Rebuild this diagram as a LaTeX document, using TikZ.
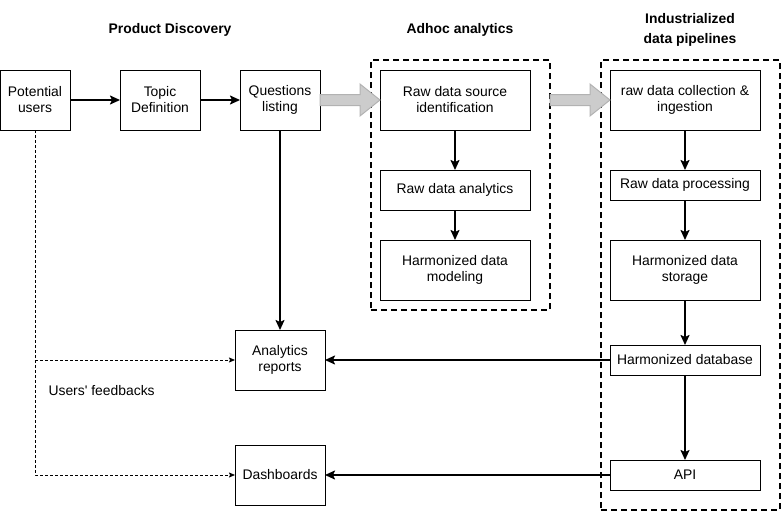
\documentclass[tikz,border=0pt]{standalone}
\usepackage{fontspec}
\setmainfont{Liberation Sans}
\usetikzlibrary{positioning,arrows.meta}

\begin{document}
\begin{tikzpicture}[x=1pt, y=1pt, node distance={40pt},
    main/.style = {draw, line width=1pt, align=center, inner sep=0pt, outer sep=0pt, font=\fontsize{13.9}{16}\selectfont},
    title/.style = {align=center, font=\bfseries\fontsize{13.9}{20}\selectfont},
    frame/.style = {draw, line width=2pt, dash pattern=on 6pt off 4pt, inner sep=0pt, outer sep=0pt},
    flow/.style = {-{Stealth[length=10pt, width=9pt, inset=2pt]}, line width=1.8pt},
    feedback/.style = {-{Stealth[length=6pt, width=5pt, inset=1pt]}, line width=0.8pt, dash pattern=on 3pt off 2pt},
    bigarrow/.style = {fill=black!20, draw=black!30, line width=1pt}]
\useasboundingbox (0,0) rectangle (782,-512);
				% product discovery
				\node[main, minimum width=70pt, minimum height=60pt] (users) at (35,-100) {Potential\\users};
				\node[main, minimum width=80pt, minimum height=60pt] (topic) [right=50pt of users] {Topic\\Definition};
				\node[main, minimum width=80pt, minimum height=60pt] (questions) [right=40pt of topic] {Questions\\listing};
				% adhoc analytics
				\node[main, minimum width=150pt, minimum height=60pt] (source) [right=60pt of questions] {Raw data source\\identification};
				\node[main, minimum width=150pt, minimum height=40pt] (rawana) [below=40pt of source] {Raw data analytics};
				\node[main, minimum width=150pt, minimum height=60pt] (model) [below=30pt of rawana] {Harmonized data\\modeling};
				% industrialized pipelines
				\node[main, minimum width=150pt, minimum height=60pt] (collect) [right=80pt of source] {raw data collection \&\\ingestion};
				\node[main, minimum width=150pt, minimum height=30pt] (process) [below=40pt of collect] {Raw data processing};
				\node[main, minimum width=150pt, minimum height=60pt] (storage) [below=40pt of process] {Harmonized data\\storage};
				\node[main, minimum width=150pt, minimum height=30pt] (database) [below=45pt of storage] {Harmonized database};
				\node[main, minimum width=150pt, minimum height=30pt] (api) [below=85pt of database] {API};
				% outputs
				\node[main, minimum width=90pt, minimum height=60pt] (reports) at (questions |- database) {Analytics\\reports};
				\node[main, minimum width=90pt, minimum height=60pt] (dash) at (questions |- api) {Dashboards};
				% frames and titles
				\node[frame, minimum width=179pt, minimum height=250pt] (adhoc) at (460.5,-185) {};
				\node[frame, minimum width=179pt, minimum height=450pt] (indus) at (690.5,-285) {};
				\node[title] (t1) at (170,-30) {Product Discovery};
				\node[title] (t2) at (460,-30) {Adhoc analytics};
				\node[title] (t3) at (690,-30) {Industrialized\\data pipelines};
				\node[font=\fontsize{13.9}{16}\selectfont, anchor=west] (fb) at (45,-391) {Users\textquotesingle{} feedbacks};
				% gray arrows
				\path[bigarrow] (questions.east) ++(0,5.5) -- ++(40,0) -- ++(0,10.5) -- ++(20,-16) -- ++(-20,-16) -- ++(0,10.5) -- ++(-40,0) -- cycle;
				\path[bigarrow] (adhoc.east |- collect.west) ++(0,5.5) -- ++(40,0) -- ++(0,10.5) -- ++(20,-16) -- ++(-20,-16) -- ++(0,10.5) -- ++(-40,0) -- cycle;
				% connectors
				\draw[flow] (users) -- (topic);
				\draw[flow] (topic) -- (questions);
				\draw[flow] (questions) -- (reports);
				\draw[flow] (source) -- (rawana);
				\draw[flow] (rawana) -- (model);
				\draw[flow] (collect) -- (process);
				\draw[flow] (process) -- (storage);
				\draw[flow] (storage) -- (database);
				\draw[flow] (database) -- (api);
				\draw[flow] (database) -- (reports);
				\draw[flow] (api) -- (dash);
				\coordinate (split) at (users.south |- reports);
				\draw[feedback] (users.south) -- (users.south |- dash) -- (dash.west);
				\draw[feedback] (split) -- (reports.west);
\end{tikzpicture}
\end{document}
